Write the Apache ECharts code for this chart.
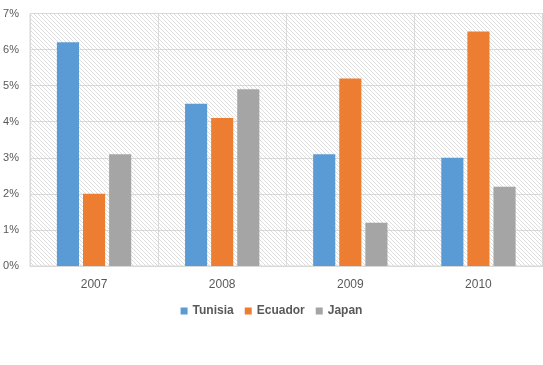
<!DOCTYPE html>
<html><head><meta charset="utf-8">
<script src="https://cdn.jsdelivr.net/npm/echarts@6/dist/echarts.min.js"></script>
<style>html,body{margin:0;padding:0;background:#fff}#c{width:543px;height:365px}</style>
</head><body><div id="c"></div>
<script>
const categories = ['2007', '2008', '2009', '2010'];
const tunisia = [6.2, 4.5, 3.1, 3.0];
const ecuador = [2.0, 4.1, 5.2, 6.5];
const japan = [3.1, 4.9, 1.2, 2.2];
const yTicks = [0, 1, 2, 3, 4, 5, 6, 7];

const pc = document.createElement('canvas');
pc.width = 4; pc.height = 4;
const pctx = pc.getContext('2d');
pctx.fillStyle = '#ffffff'; pctx.fillRect(0,0,4,4);
pctx.fillStyle = '#dedede';
for (let i = 0; i < 4; i++) pctx.fillRect(i, i, 1, 1);

const chart = echarts.init(document.getElementById('c'), null, {renderer: 'canvas'});
const font = 'Liberation Sans';
chart.setOption({
  animation: false,
  grid: {left: 30, right: 0.5, top: 13.5, bottom: 99, show: true,
    backgroundColor: {image: pc, repeat: 'repeat'}, borderColor: '#d9d9d9', borderWidth: 1},
  legend: {bottom: 43, left: 'center', itemWidth: 7, itemHeight: 7, itemGap: 11,
    icon: 'rect',
    textStyle: {color: '#595959', fontFamily: font, fontSize: 12, fontWeight: 'bold'}},
  xAxis: {type: 'category', data: categories,
    axisLine: {lineStyle: {color: '#d9d9d9'}}, axisTick: {show: false},
    splitLine: {show: true, lineStyle: {color: '#d9d9d9'}},
    axisLabel: {color: '#595959', fontFamily: font, fontSize: 12, margin: 13}},
  yAxis: {type: 'value', min: yTicks[0], max: yTicks[yTicks.length-1], interval: 1,
    axisLine: {show: false}, axisTick: {show: false},
    splitLine: {lineStyle: {color: '#d9d9d9'}},
    axisLabel: {color: '#595959', fontFamily: font, fontSize: 11, margin: 11, formatter: v => v + '%'}},
  series: [
    {name: 'Tunisia', type: 'bar', data: tunisia, itemStyle: {color: '#5b9bd5'}, barGap: '18%', barCategoryGap: '42%'},
    {name: 'Ecuador', type: 'bar', data: ecuador, itemStyle: {color: '#ed7d31'}},
    {name: 'Japan', type: 'bar', data: japan, itemStyle: {color: '#a5a5a5'}}
  ]
});
</script></body></html>
